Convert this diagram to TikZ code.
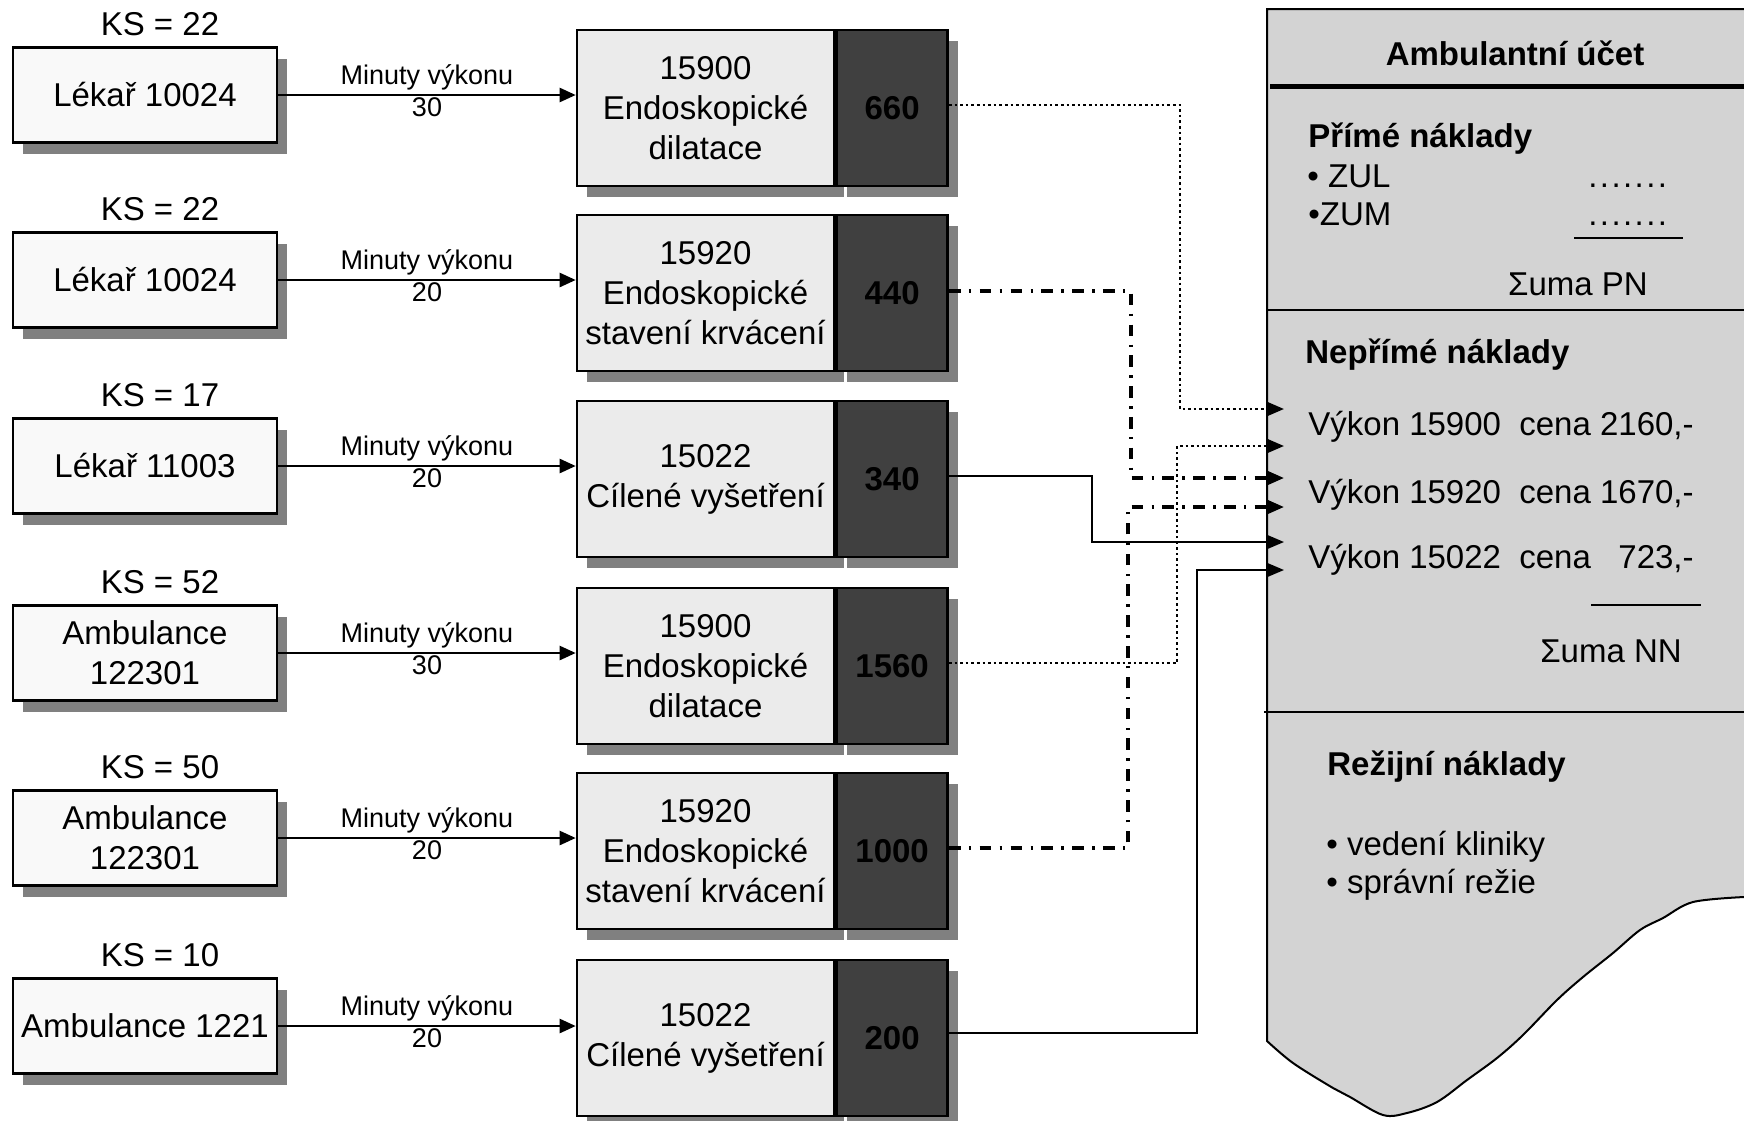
\documentclass[tikz,border=0pt]{standalone}
\usepackage{fontspec}
\setmainfont{Liberation Sans}
\usetikzlibrary{arrows.meta,calc,shadows}

\definecolor{boxwhite}{HTML}{F9F9F9}
\definecolor{codefill}{HTML}{EBEBEB}
\definecolor{pricefill}{HTML}{404040}
\definecolor{shadowgray}{HTML}{808080}
\definecolor{panelfill}{HTML}{D3D3D3}

\newcommand{\fillerdots}{.\kern1.2pt.\kern1.2pt.\kern1.2pt.\kern1.2pt.\kern1.2pt.\kern1.2pt.}

\begin{document}
\begin{tikzpicture}[x=0.5pt,y=-0.5pt,
  every node/.style={font=\fontsize{16.5pt}{20pt}\selectfont, inner sep=0pt},
  boxshadow/.style={general shadow={fill=shadowgray, shadow xshift=5pt, shadow yshift=-5.5pt}},
  source/.style={draw, line width=1.3pt, fill=boxwhite, minimum width=132pt,
    minimum height=47.5pt, align=center, boxshadow},
  code/.style={draw, line width=1.3pt, fill=codefill, minimum width=128.5pt,
    minimum height=78pt, align=center, boxshadow},
  price/.style={draw, line width=1.3pt, fill=pricefill, minimum width=55.5pt,
    minimum height=78pt, anchor=west, boxshadow,
    font=\fontsize{16.5pt}{20pt}\selectfont\bfseries},
  ks/.style={anchor=base},
  flow/.style={line width=1.2pt, -{Triangle[length=8pt,width=7pt]}},
  minlabel/.style={font=\fontsize{13.5pt}{16pt}\selectfont, anchor=base},
  solidlink/.style={line width=1pt, -{Triangle[length=8pt,width=6.5pt]}},
  dotlink/.style={solidlink, line width=1.3pt, dash pattern=on 1.3pt off 1.5pt},
  dashdotlink/.style={solidlink, line width=1.6pt,
    dash pattern=on 5.8pt off 4.2pt on 1.2pt off 4.2pt},
  paneltext/.style={anchor=base west},
  panelhead/.style={anchor=base west, font=\fontsize{16.5pt}{20pt}\selectfont\bfseries},
  rule/.style={line width=1pt}
]
\useasboundingbox (0,0) rectangle (1744,1120);

% ---- account panel on the right ----
\begin{scope}
  \clip (0,0) rectangle (1744,1120);
  \filldraw[fill=panelfill, line width=1pt]
    (1267,9) -- (1760,9) -- (1760,897)
    -- plot[smooth, tension=0.55] coordinates {(1744,897) (1693,902) (1663,918)
       (1640,930) (1613,953) (1583,977) (1557,1000) (1523,1035) (1497,1058)
       (1467,1080) (1437,1102) (1407,1113) (1383,1115) (1350,1097) (1333,1088)
       (1293,1063) (1267,1041)}
    -- cycle;
  \draw[line width=2.5pt] (1270,86) -- (1760,86);
  \draw[rule] (1267,310) -- (1760,310);
  \draw[rule] (1264,712) -- (1760,712);
\end{scope}

\node[anchor=base, font=\fontsize{16.5pt}{20pt}\selectfont\bfseries] (title) at (1515,65) {Ambulantní účet};
\node[panelhead] (pn) at (1308,147) {Přímé náklady};
\node[paneltext] (zul) at (1307,187) {• ZUL};
\node[paneltext] (zum) at (1308,225) {•ZUM};
\node[paneltext] (dots1) at (1588,187) {\fillerdots};
\node[paneltext] (dots2) at (1588,225) {\fillerdots};
\draw[rule] (1574,238) -- (1683,238);
\node[anchor=base] (sumpn) at (1578,295) {Σuma PN};

\node[panelhead] (nn) at (1305,363) {Nepřímé náklady};
\node[paneltext] (v1) at (1308,435) {Výkon 15900\ \ cena 2160,-};
\node[paneltext] (v2) at (1308,503) {Výkon 15920\ \ cena 1670,-};
\node[paneltext] (v3) at (1308,568) {Výkon 15022\ \ cena \phantom{2}723,-};
\draw[rule] (1591,605) -- (1701,605);
\node[anchor=base] (sumnn) at (1611,662) {Σuma NN};

\node[panelhead] (rn) at (1327,775) {Režijní náklady};
\node[paneltext] (r1) at (1326,855) {• vedení kliniky};
\node[paneltext] (r2) at (1326,893) {• správní režie};

% ---- cost centres and services ----
\node[source] (L1) at (145,95)  {Lékař 10024};
\node[source] (L2) at (145,280) {Lékař 10024};
\node[source] (L3) at (145,466) {Lékař 11003};
\node[source] (L4) at (145,653) {Ambulance\\122301};
\node[source] (L5) at (145,838) {Ambulance\\122301};
\node[source] (L6) at (145,1026) {Ambulance 1221};

\node[ks] (K1) at ($(L1.north)+(15,-11)$) {KS = 22};
\node[ks] (K2) at ($(L2.north)+(15,-11)$) {KS = 22};
\node[ks] (K3) at ($(L3.north)+(15,-11)$) {KS = 17};
\node[ks] (K4) at ($(L4.north)+(15,-11)$) {KS = 52};
\node[ks] (K5) at ($(L5.north)+(15,-11)$) {KS = 50};
\node[ks] (K6) at ($(L6.north)+(15,-11)$) {KS = 10};

\node[code] (M1) at (705.5,108)  {15900\\Endoskopické\\dilatace};
\node[code] (M2) at (705.5,293)  {15920\\Endoskopické\\stavení krvácení};
\node[code] (M3) at (705.5,479)  {15022\\Cílené vyšetření};
\node[code] (M4) at (705.5,666)  {15900\\Endoskopické\\dilatace};
\node[code] (M5) at (705.5,851)  {15920\\Endoskopické\\stavení krvácení};
\node[code] (M6) at (705.5,1038) {15022\\Cílené vyšetření};

\node[price] (D1) at (M1.east) {660};
\node[price] (D2) at (M2.east) {440};
\node[price] (D3) at (M3.east) {340};
\node[price] (D4) at (M4.east) {1560};
\node[price] (D5) at (M5.east) {1000};
\node[price] (D6) at (M6.east) {200};

% minutes of service
\draw[flow] (L1.east) -- (L1.east -| M1.west)
  node[minlabel, midway, yshift=5.5pt] (m1) {Minuty výkonu}
  node[minlabel, midway, yshift=-10.5pt] (n1) {30};
\draw[flow] (L2.east) -- (L2.east -| M2.west)
  node[minlabel, midway, yshift=5.5pt] (m2) {Minuty výkonu}
  node[minlabel, midway, yshift=-10.5pt] (n2) {20};
\draw[flow] (L3.east) -- (L3.east -| M3.west)
  node[minlabel, midway, yshift=5.5pt] (m3) {Minuty výkonu}
  node[minlabel, midway, yshift=-10.5pt] (n3) {20};
\draw[flow] (L4.east) -- (L4.east -| M4.west)
  node[minlabel, midway, yshift=5.5pt] (m4) {Minuty výkonu}
  node[minlabel, midway, yshift=-10.5pt] (n4) {30};
\draw[flow] (L5.east) -- (L5.east -| M5.west)
  node[minlabel, midway, yshift=5.5pt] (m5) {Minuty výkonu}
  node[minlabel, midway, yshift=-10.5pt] (n5) {20};
\draw[flow] (L6.east) -- (L6.east -| M6.west)
  node[minlabel, midway, yshift=5.5pt] (m6) {Minuty výkonu}
  node[minlabel, midway, yshift=-10.5pt] (n6) {20};

% ---- prices flowing into the indirect costs ----
\coordinate (in1) at (1284,409);
\coordinate (in2) at (1284,446);
\coordinate (in3) at (1284,478);
\coordinate (in4) at (1284,507);
\coordinate (in5) at (1284,542);
\coordinate (in6) at (1284,570);

\coordinate (c1) at (1180,409);
\coordinate (c2) at (1131,478);
\coordinate (c3) at (1092,542);
\coordinate (c4) at (1177,446);
\coordinate (c5) at (1128,507);
\coordinate (c6) at (1197,570);

\draw[dotlink]     ([yshift=1.5pt]D1.east) -| (c1) -- (in1);
\draw[dashdotlink] ([yshift=1pt]D2.east) -| (c2) -- (in3);
\draw[solidlink]   ([yshift=1.5pt]D3.east) -| (c3) -- (in5);
\draw[dotlink]     ([yshift=1.5pt]D4.east) -| (c4) -- (in2);
\draw[dashdotlink] ([yshift=1.5pt]D5.east) -| (c5) -- (in4);
\draw[solidlink]   ([yshift=2.5pt]D6.east) -| (c6) -- (in6);

\end{tikzpicture}
\end{document}
